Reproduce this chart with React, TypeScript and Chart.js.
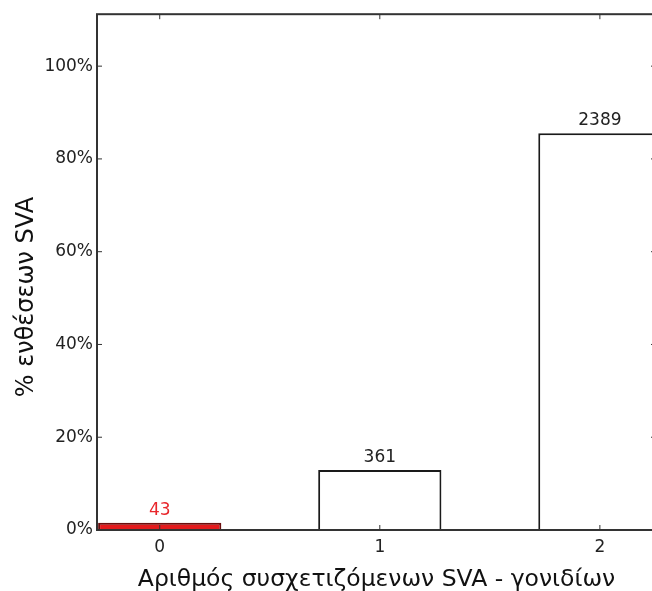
import React, { useEffect, useRef } from "react";
import { Chart, registerables } from "chart.js";

Chart.register(...registerables);

// Number of associated SVA genes per insertion, and how many insertions fall in each group
const categories = [0, 1, 2];
const counts = [43, 361, 2389];
const total = counts.reduce((a, b) => a + b, 0);
const shares = counts.map((c) => (c / total) * 100);

const fillColors = ["#e31a1c", "#ffffff", "#ffffff"];
const edgeColors = ["#6b0d0d", "#1a1a1a", "#1a1a1a"];
const labelColors = ["#e8262b", "#222222", "#222222"];

const yTicks = [0, 20, 40, 60, 80, 100];
const xTicks = [0, 1, 2];

const xTitle = "Αριθμός συσχετιζόμενων SVA - γονιδίων";
const yTitle = "% ενθέσεων SVA";

const FONT = "'DejaVu Sans', sans-serif";

// Axes frame with inward-pointing tick marks on all four sides
const framePlugin = {
  id: "frame",
  afterDraw(chart: any) {
    const { ctx, chartArea: a, scales } = chart;
    ctx.save();
    ctx.strokeStyle = "#333333";
    ctx.lineWidth = 2;
    ctx.strokeRect(a.left, a.top, a.right - a.left, a.bottom - a.top);
    ctx.lineWidth = 1;
    const len = 5;
    ctx.beginPath();
    yTicks.forEach((v) => {
      const y = scales.y.getPixelForValue(v);
      ctx.moveTo(a.left, y);
      ctx.lineTo(a.left + len, y);
      ctx.moveTo(a.right, y);
      ctx.lineTo(a.right - len, y);
    });
    xTicks.forEach((v) => {
      const x = scales.x.getPixelForValue(v);
      ctx.moveTo(x, a.bottom);
      ctx.lineTo(x, a.bottom - len);
      ctx.moveTo(x, a.top);
      ctx.lineTo(x, a.top + len);
    });
    ctx.stroke();
    ctx.restore();
  },
};

// Count above each bar
const countLabels = {
  id: "countLabels",
  afterDatasetsDraw(chart: any) {
    const { ctx } = chart;
    const meta = chart.getDatasetMeta(0);
    ctx.save();
    ctx.font = `17px ${FONT}`;
    ctx.textAlign = "center";
    ctx.textBaseline = "alphabetic";
    meta.data.forEach((bar: any, i: number) => {
      ctx.fillStyle = labelColors[i];
      ctx.fillText(String(counts[i]), bar.x, bar.y - 8);
    });
    ctx.restore();
  },
};

// Vertical axis title, set a little below the middle of the plot
const yTitlePlugin = {
  id: "yTitle",
  afterDraw(chart: any) {
    const { ctx } = chart;
    ctx.save();
    ctx.translate(27, 297);
    ctx.rotate(-Math.PI / 2);
    ctx.font = `24px ${FONT}`;
    ctx.fillStyle = "#111111";
    ctx.textAlign = "center";
    ctx.textBaseline = "middle";
    ctx.fillText(yTitle, 0, 0);
    ctx.restore();
  },
};

export default function App() {
  const ref = useRef<HTMLCanvasElement>(null);

  useEffect(() => {
    const chart = new Chart(ref.current!, {
      type: "bar",
      data: {
        datasets: [
          {
            data: categories.map((c, i) => ({ x: c, y: shares[i] })),
            backgroundColor: fillColors,
            borderColor: edgeColors,
            borderWidth: 2,
            barPercentage: 0.56,
            categoryPercentage: 1,
          },
        ],
      },
      options: {
        animation: false,
        responsive: false,
        layout: { padding: { top: 14, right: 4, left: 0, bottom: 0 } },
        plugins: { legend: { display: false }, tooltip: { enabled: false } },
        scales: {
          x: {
            type: "linear",
            offset: false,
            min: -0.285,
            max: 2.255,
            grid: { display: false, drawTicks: false },
            border: { display: false },
            ticks: {
              stepSize: 1,
              includeBounds: false,
              padding: 7,
              color: "#222222",
              font: { family: FONT, size: 17 },
              callback: (v: any) => (Number.isInteger(v) ? String(v) : ""),
            },
            title: {
              display: true,
              text: xTitle,
              color: "#111111",
              font: { family: FONT, size: 23.5 },
              padding: { top: 0, bottom: -3 },
            },
            afterFit: (s: any) => {
              s.height = 61;
            },
          },
          y: {
            min: 0,
            max: 111.2,
            grid: { display: false, drawTicks: false },
            border: { display: false },
            ticks: {
              stepSize: 20,
              includeBounds: false,
              padding: 4,
              color: "#222222",
              font: { family: FONT, size: 17 },
              callback: (v: any) => `${v}%`,
            },
            afterFit: (s: any) => {
              s.width = 97;
            },
          },
        },
      },
      plugins: [framePlugin, countLabels, yTitlePlugin],
    } as any);
    return () => chart.destroy();
  }, []);

  return (
    <div
      style={{
        position: "fixed",
        left: 0,
        top: 0,
        width: 652,
        height: 591,
        overflow: "hidden",
        background: "#ffffff",
      }}
    >
      <canvas ref={ref} width={660} height={591} style={{ display: "block" }} />
    </div>
  );
}
